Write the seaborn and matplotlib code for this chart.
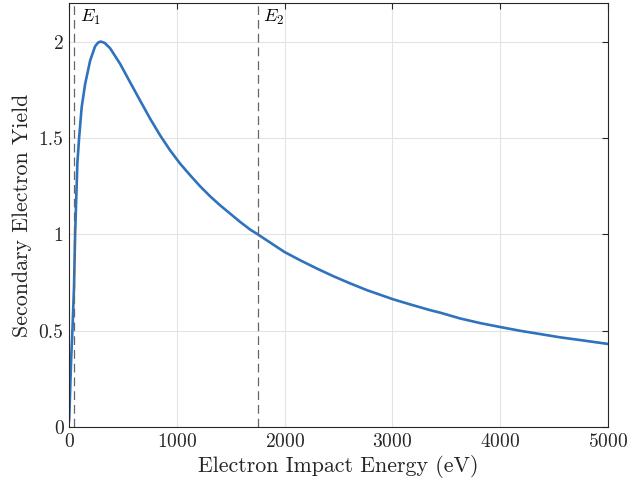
import numpy as np
import pandas as pd
import matplotlib
matplotlib.use("Agg")
import matplotlib.pyplot as plt
import seaborn as sns

# Datos
energy = [0, 3, 19, 31, 46, 56, 77, 93, 117, 149, 195, 241, 270, 294, 330, 381,
          474, 566, 659, 752, 845, 938, 1031, 1124, 1216, 1309, 1402, 1495,
          1588, 1681, 1750, 1866, 1999, 2145, 2300, 2454, 2609, 2764, 2918,
          3005, 3166, 3352, 3445, 3630, 3816, 4008, 4188, 4374, 4559, 4745, 5000]
sey = [0.03, 0.07, 0.35, 0.50, 0.73, 1.0, 1.37, 1.50, 1.66, 1.78, 1.90, 1.975,
       1.995, 2.0, 1.993, 1.965, 1.884, 1.789, 1.694, 1.60, 1.513, 1.435, 1.366,
       1.306, 1.249, 1.197, 1.15, 1.107, 1.064, 1.024, 1.0, 0.957, 0.908, 0.865,
       0.822, 0.782, 0.745, 0.71, 0.68, 0.663, 0.636, 0.606, 0.593, 0.563,
       0.539, 0.518, 0.499, 0.482, 0.465, 0.451, 0.431]
crossings = {"$E_1$": 46, "$E_2$": 1752}
x_ticks = [0, 1000, 2000, 3000, 4000, 5000]
y_ticks = [0, 0.5, 1, 1.5, 2]
y_labels = ["0", "0.5", "1", "1.5", "2"]

df = pd.DataFrame({"energy": energy, "sey": sey})

# Estilo
sns.set_style("whitegrid")
plt.rcParams["font.family"] = "serif"
plt.rcParams["font.serif"] = ["cmr10", "DejaVu Serif"]
plt.rcParams["mathtext.fontset"] = "cm"
plt.rcParams["axes.formatter.use_mathtext"] = True

fig = plt.figure(figsize=(6.28, 4.86), dpi=100)
ax = fig.add_axes([0.110, 0.1214, 0.858, 0.8724])

sns.lineplot(data=df, x="energy", y="sey", ax=ax, color="#2f72bd", linewidth=1.9)

for label, xe in crossings.items():
    ax.axvline(xe, color="#666666", linestyle=(0, (7, 4)), linewidth=0.9)
    ax.annotate(label, xy=(xe, 2.125), xytext=(4, 0), textcoords="offset points",
                ha="left", va="center", fontsize=13, color="black")

ax.set_xlim(0, 5000)
ax.set_ylim(0, 2.2)
ax.set_xticks(x_ticks)
ax.set_yticks(y_ticks)
ax.set_yticklabels(y_labels)
ax.set_xlabel("Electron Impact Energy (eV)", fontsize=15.8, color="#262626", labelpad=3)
ax.set_ylabel("Secondary Electron Yield", fontsize=15.8, color="#262626", labelpad=5)

ax.grid(True, color="#e3e3e3", linewidth=0.8)
for sp in ax.spines.values():
    sp.set_visible(True)
    sp.set_color("#262626")
    sp.set_linewidth(0.8)
ax.tick_params(direction="in", length=4, width=0.8, top=True, right=True,
               labelsize=14, colors="#262626", pad=4)

plt.savefig("out.png", dpi=100)
